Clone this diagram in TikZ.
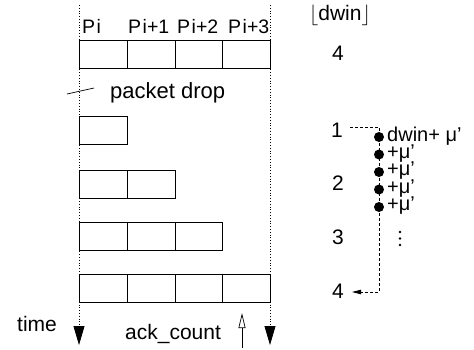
\documentclass[tikz,border=0pt]{standalone}
\usepackage{fontspec}
\setmainfont{Liberation Sans}
\usetikzlibrary{arrows.meta}
\tikzset{
  x=1pt, y=-1pt,
  every node/.style={inner sep=0pt, font=\fontsize{21}{24}\selectfont},
  cell/.style={draw, line width=0.9pt, minimum width=47.75pt, minimum height=28pt, anchor=north west},
  lbl/.style={anchor=base west, font=\fontsize{19.5}{22}\selectfont},
  num/.style={anchor=base, font=\fontsize{21}{24}\selectfont},
  timeline/.style={dotted, line width=0.8pt, -{Triangle[length=19pt,width=11pt]}},
  dashline/.style={line width=0.8pt, dash pattern=on 3pt off 2pt},
  bigdot/.style={circle, fill, minimum size=10pt},
  smalldot/.style={circle, fill, minimum size=2.6pt},
  mu/.style={anchor=west, font=\fontsize{20}{22}\selectfont},
}
\begin{document}
\begin{tikzpicture}
\useasboundingbox (0,0) rectangle (474,349);
% time lines
\coordinate (ltop) at (79,5);
\coordinate (lbot) at (79,345);
\coordinate (rtop) at (270,5);
\coordinate (rbot) at (270,345);
\draw[timeline] (ltop) -- (lbot);
\draw[timeline] (rtop) -- (rbot);
% packet labels
\node[lbl] (p0) at (82,33) {P\hspace{1.5pt}i};
\node[lbl] (p1) at (128,33) {P\hspace{1.5pt}i+1};
\node[lbl] (p2) at (177,33) {P\hspace{1.5pt}i+2};
\node[lbl] (p3) at (228,33) {P\hspace{1.5pt}i+3};
% row 0
\node[cell] (a0) at (79,40) {};
\node[cell] (a1) at (126.75,40) {};
\node[cell] (a2) at (174.5,40) {};
\node[cell] (a3) at (222.25,40) {};
% packet drop
\coordinate (d1) at (67,94);
\coordinate (d2) at (94,88);
\draw[line width=0.7pt] (d1) -- (d2);
\node[anchor=base west, font=\fontsize{22}{24}\selectfont] (pd) at (110,98) {packet drop};
% row 1
\node[cell] (b0) at (79,116) {};
% row 2
\node[cell] (c0) at (79,170) {};
\node[cell] (c1) at (126.75,170) {};
% row 3
\node[cell] (e0) at (79,222) {};
\node[cell] (e1) at (126.75,222) {};
\node[cell] (e2) at (174.5,222) {};
% row 4
\node[cell] (f0) at (79,274) {};
\node[cell] (f1) at (126.75,274) {};
\node[cell] (f2) at (174.5,274) {};
\node[cell] (f3) at (222.25,274) {};
% bottom labels
\node[anchor=base west] (time) at (17,331) {time};
\node[anchor=base west] (ack) at (125,339) {ack\_count};
\coordinate (ackb) at (242,348);
\coordinate (ackt) at (242,313);
\draw[line width=0.7pt, -{Triangle[open,length=15pt,width=7pt]}] (ackb) -- (ackt);
% right column
\node[anchor=base] (dwin) at (340,20) {$\lfloor$dwin$\rfloor$};
\node[num] (n4a) at (338,60) {4};
\node[num] (n1) at (337,137) {1};
\node[num] (n2) at (338,190) {2};
\node[num] (n3) at (338,244) {3};
\node[num] (n4b) at (338,298) {4};
\coordinate (ca) at (379,127);
\coordinate (cb) at (379,292);
\draw[dashline, -{Triangle[length=9pt,width=4.5pt]}] (n1.east |- ca) ++(7,0) -- (ca) -- (cb) -- ([xshift=8pt]n4b.east |- cb);
\node[bigdot] (k1) at (379,137) {};
\node[bigdot] (k2) at (379,154.5) {};
\node[bigdot] (k3) at (379,172) {};
\node[bigdot] (k4) at (379,189.5) {};
\node[bigdot] (k5) at (379,207) {};
\node[mu] (m1) at (387,136) {dwin+ μ’};
\node[mu] (m2) at (387,153.5) {+μ’};
\node[mu] (m3) at (387,171) {+μ’};
\node[mu] (m4) at (387,188.5) {+μ’};
\node[mu] (m5) at (387,206) {+μ’};
\node[smalldot] (vd1) at (400,232) {};
\node[smalldot] (vd2) at (400,238.5) {};
\node[smalldot] (vd3) at (400,245) {};
\end{tikzpicture}
\end{document}
